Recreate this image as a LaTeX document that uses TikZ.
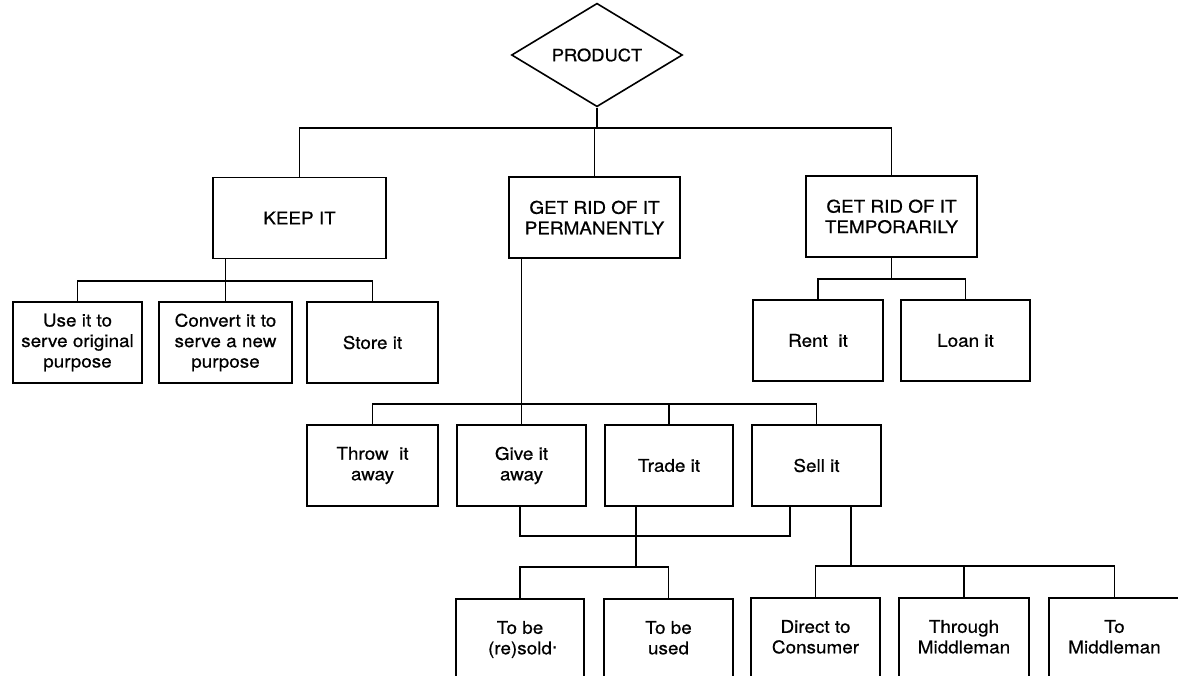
\documentclass[tikz,border=0pt]{standalone}
\usepackage{fontspec}
\setmainfont{TeX Gyre Heros}[FakeStretch=1.08,FakeBold=0.6]
\usetikzlibrary{shapes.geometric}
\tikzset{
  box/.style={draw, line width=1.6pt, rectangle, inner sep=0pt, minimum height=81pt,
    align=center, font=\fontsize{17.5}{20.5}\selectfont},
  prodshape/.style={draw, line width=1.6pt, diamond, inner sep=0pt, minimum width=171pt,
    minimum height=81pt, font=\fontsize{17}{20}\selectfont},
  link/.style={line width=1.6pt}
}
\newcommand{\pstrut}{\vphantom{(}}
\begin{document}
\begin{tikzpicture}[x=1pt,y=-1pt]
\clip (0,0) rectangle (1178,675);
\fill[white] (0,0) rectangle (1178,675);
% top
\node[prodshape] (prod) at (597,55) {PRODUCT};
\node[box, minimum width=173pt] (keep) at (299.5,218) {KEEP IT};
\node[box, minimum width=171pt] (perm) at (594.5,217.5) {GET RID OF IT\\PERMANENTLY};
\node[box, minimum width=171pt] (temp) at (891.5,216.5) {GET RID OF IT\\TEMPORARILY};
% keep children
\node[box, minimum width=129pt] (use) at (77.5,342.5) {Use it to\\serve original\\purpose};
\node[box, minimum width=133pt] (conv) at (225.5,342.5) {Convert it to\\serve a new\\purpose};
\node[box, minimum width=131pt] (store) at (372.5,342.5) {Store it};
% temp children
\node[box, minimum width=130pt] (rent) at (818,340.5) {Rent\ \ it};
\node[box, minimum width=129pt] (loan) at (965.5,340.5) {Loan it};
% perm children
\node[box, minimum width=131pt] (throw) at (372.5,465.5) {Throw\ \ it\\away};
\node[box, minimum width=129pt] (give) at (521.5,465.5) {Give it\\away};
\node[box, minimum width=128pt] (trade) at (669,465.5) {Trade it};
\node[box, minimum width=129pt] (sell) at (816.5,465.5) {Sell it};
% bottom
\node[box, minimum width=128pt] (resold) at (520,639.5) {To be\\(re)sold\rlap{\smash{\raisebox{6pt}{.}}}};
\node[box, minimum width=129pt] (used) at (668.5,639.5) {To be\\used\pstrut};
\node[box, minimum width=129pt] (direct) at (815.5,638.5) {Direct to\\Consumer\pstrut};
\node[box, minimum width=130pt] (through) at (964,638.5) {Through\\Middleman\pstrut};
\node[box, minimum width=131pt] (tomid) at (1114.5,638.5) {To\\Middleman\pstrut};
% bar levels
\coordinate (b1) at (0,128);
\coordinate (b2) at (0,281);
\coordinate (b3) at (0,279);
\coordinate (b4) at (0,404);
\coordinate (b5) at (0,536);
\coordinate (b6) at (0,567);
\coordinate (b7) at (0,566);
% connectors
\draw[link] (prod.south) -- (prod.south |- b1);
\draw[link] (keep.north) -- (keep.north |- b1) -| (temp.north);
\draw[link] (perm.north) -- (perm.north |- b1);
\draw[link] (conv.north |- keep.south) -- (conv.north);
\draw[link] (use.north) -- (use.north |- b2) -| (store.north);
\draw[link] (temp.south) -- (temp.south |- b3);
\draw[link] (rent.north) -- (rent.north |- b3) -| (loan.north);
\draw[link] (give.north |- perm.south) -- (give.north);
\draw[link] (throw.north) -- (throw.north |- b4) -| (sell.north);
\draw[link] (trade.north) -- (trade.north |- b4);
\draw[link] (resold.north |- give.south) -- (resold.north |- b5) -| ([xshift=-26.5pt]sell.south);
\draw[link] ([xshift=-33pt]trade.south) -- ([xshift=-33pt]trade.south |- b6);
\draw[link] (resold.north) -- (resold.north |- b6) -| (used.north);
\draw[link] ([xshift=34.5pt]sell.south) -- ([xshift=34.5pt]sell.south |- b7);
\draw[link] (direct.north) -- (direct.north |- b7) -| (tomid.north);
\draw[link] (through.north) -- (through.north |- b7);
\end{tikzpicture}
\end{document}
